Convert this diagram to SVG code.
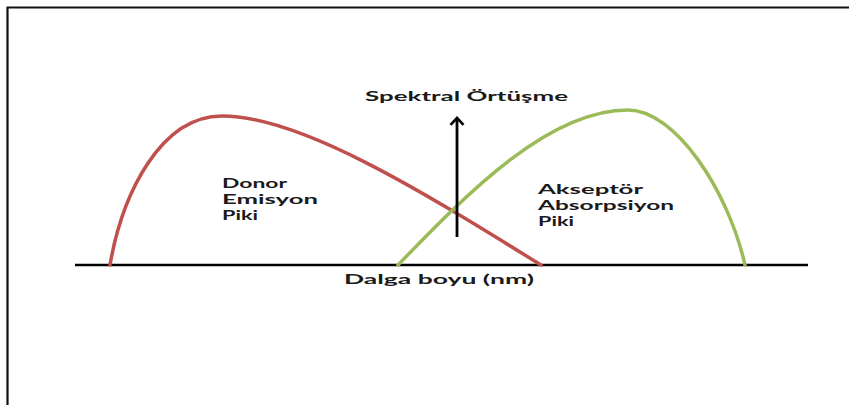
<svg xmlns="http://www.w3.org/2000/svg" width="849" height="405" viewBox="0 0 849 405">
<style>
.lbl{font-family:Lato,"Open Sans",sans-serif;font-weight:700;font-size:13px;fill:#1a1a1a}
.curve{fill:none;stroke-width:3.5;stroke-linecap:round}
</style>
<defs>
<marker id="ah" viewBox="0 0 10 16" refX="8.3" refY="8" markerWidth="10" markerHeight="16" markerUnits="userSpaceOnUse" orient="auto">
<polyline points="1.5,1.5 8.3,8 1.5,14.5" fill="none" stroke="#000" stroke-width="2.6" stroke-linejoin="miter"/>
</marker>
</defs>
<rect width="849" height="405" fill="#fff"/>
<path id="frame" d="M7.5,405 V7.5 H849" fill="none" stroke="#111" stroke-width="2.2"/>
<g id="axis">
<line x1="75" y1="265" x2="808" y2="265" stroke="#000" stroke-width="2.6"/>
</g>
<g id="donor-curve">
<path class="curve" stroke="#c0504d" d="M110,265 C122,195 160,116 222,116 C300,116 420,190 541,265"/>
</g>
<g id="acceptor-curve">
<path class="curve" stroke="#9bbb59" d="M398,265 C470,190 550,110 628,110 C675,110 728,190 745,265"/>
</g>
<g id="connectors">
<line x1="457" y1="237" x2="457" y2="118" stroke="#000" stroke-width="2.8" marker-end="url(#ah)"/>
</g>
<g id="label-overlap">
<text class="lbl" x="365" y="101" textLength="203" lengthAdjust="spacingAndGlyphs">Spektral Örtüşme</text>
</g>
<g id="label-donor">
<text class="lbl" x="222" y="188" textLength="65" lengthAdjust="spacingAndGlyphs">Donor</text>
<text class="lbl" x="222" y="204" textLength="96" lengthAdjust="spacingAndGlyphs">Emisyon</text>
<text class="lbl" x="222" y="220" textLength="36" lengthAdjust="spacingAndGlyphs">Piki</text>
</g>
<g id="label-acceptor">
<text class="lbl" x="538" y="194" textLength="105" lengthAdjust="spacingAndGlyphs">Akseptör</text>
<text class="lbl" x="538" y="210" textLength="136" lengthAdjust="spacingAndGlyphs">Absorpsiyon</text>
<text class="lbl" x="538" y="226" textLength="36" lengthAdjust="spacingAndGlyphs">Piki</text>
</g>
<g id="label-axis">
<text class="lbl" x="344" y="284" textLength="190" lengthAdjust="spacingAndGlyphs">Dalga boyu (nm)</text>
</g>
</svg>
